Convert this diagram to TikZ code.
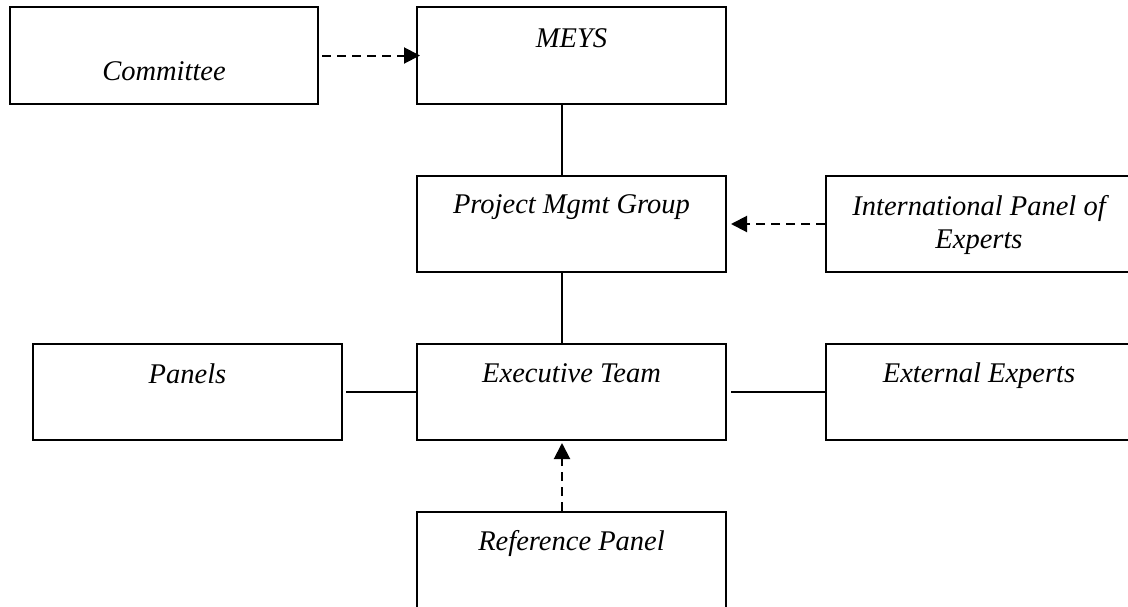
\documentclass[tikz,border=0pt]{standalone}
\usepackage{fontspec}
\setmainfont{Liberation Serif}
\usetikzlibrary{arrows.meta}
\tikzset{
  box/.style={draw, line width=2pt, inner sep=0pt, minimum height=96pt, minimum width=309pt},
  txt/.style={font=\fontsize{28.5}{33}\selectfont\itshape, inner sep=0pt, anchor=base},
  conn/.style={line width=2pt},
  dconn/.style={line width=2pt, dash pattern=on 9pt off 6pt, -{Triangle[length=16pt,width=16pt]}},
}
\begin{document}
\begin{tikzpicture}[x=1pt,y=-1pt]
\clip (0,0) rectangle (1128,606);
\fill[white] (0,0) rectangle (1128,606);
% boxes
\node[box, minimum width=308pt, minimum height=97pt] (committee) at (164,55.5) {};
\node[box, minimum height=97pt] (meys) at (571.5,55.5) {};
\node[box] (pmg) at (571.5,224) {};
\node[box, minimum width=314pt] (intl) at (983,224) {};
\node[box] (panels) at (187.5,392) {};
\node[box] (exec) at (571.5,392) {};
\node[box, minimum width=314pt] (ext) at (983,392) {};
\node[box, minimum height=108pt] (ref) at (571.5,566) {};
% texts
\node[txt] (committee-t) at (164,80) {Committee};
\node[txt] (meys-t) at (571.5,47) {MEYS};
\node[txt] (pmg-t) at (571.5,213) {Project Mgmt Group};
\node[txt, align=center] (intl-t) at (979,248) {International Panel of\\Experts};
\node[txt] (panels-t) at (187.5,383) {Panels};
\node[txt] (exec-t) at (571.5,382) {Executive Team};
\node[txt] (ext-t) at (979,382) {External Experts};
\node[txt] (ref-t) at (571.5,550) {Reference Panel};
% connectors
\draw[dconn, shorten <=3pt, shorten >=-4pt] (committee.east) -- (meys.west);
\draw[conn] ([xshift=-9.5pt]meys.south) -- ([xshift=-9.5pt]pmg.north);
\draw[dconn, shorten >=4pt] (intl.west) -- (pmg.east);
\draw[conn] ([xshift=-9.5pt]pmg.south) -- ([xshift=-9.5pt]exec.north);
\draw[conn, shorten <=3pt] (panels.east) -- (exec.west);
\draw[conn, shorten <=4pt] (exec.east) -- (ext.west);
\draw[dconn, shorten >=2pt] ([xshift=-9.5pt]ref.north) -- ([xshift=-9.5pt]exec.south);
\end{tikzpicture}
\end{document}
